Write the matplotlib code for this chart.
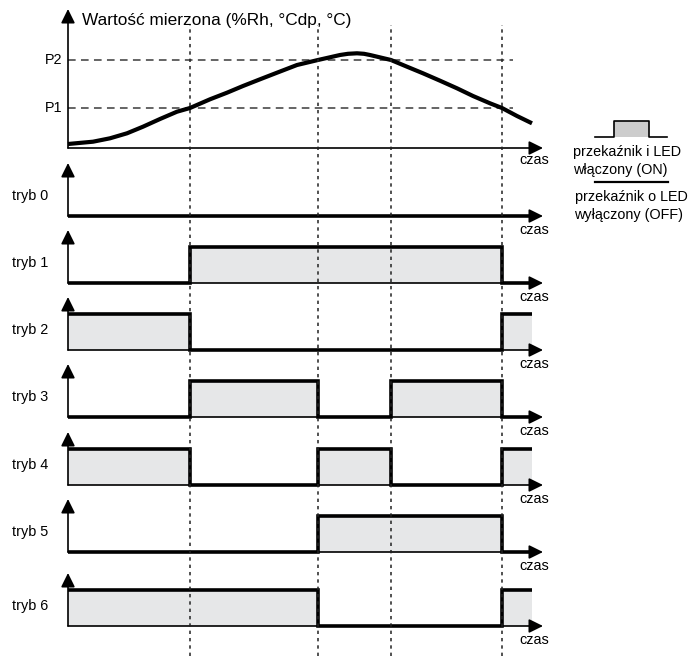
import numpy as np
import matplotlib.pyplot as plt
from matplotlib.lines import Line2D
from matplotlib.patches import Rectangle

plt.rcParams['font.family'] = ['Liberation Sans', 'DejaVu Sans']

# czas w umownych jednostkach, wartosc mierzona w umownych jednostkach
events = [12.2, 25.0, 32.3, 43.4]   # przeciecia z P1 / P2
t_end = 46.4
t_axis = 47.5

P1 = 20
P2 = 44

curve_t = [0, 2.5, 4.2, 5.9, 7.5, 9.2, 10.9, 12.2, 14.2, 15.9, 17.5, 19.2, 20.9,
           22.9, 25.0, 27.2, 28.0, 28.9, 29.6, 30.2, 32.3, 33.9, 35.5, 37.2,
           38.9, 40.5, 42.2, 43.4, 44.9, 46.4]
curve_v = [2, 3.15, 4.85, 7.35, 10.65, 14.5, 18.15, 20, 24.35, 27.65, 31, 34.35, 37.65,
           41.5, 44, 46.5, 47.1, 47.35, 47.1, 46.5, 44, 40.65, 37.35, 33.65,
           29.85, 26, 22.35, 20, 16, 12.35]

modes = ['tryb 0', 'tryb 1', 'tryb 2', 'tryb 3', 'tryb 4', 'tryb 5', 'tryb 6']
states = [
    [0, 0, 0, 0, 0],
    [0, 1, 1, 1, 0],
    [1, 0, 0, 0, 1],
    [0, 1, 0, 1, 0],
    [1, 0, 1, 0, 1],
    [0, 0, 1, 1, 0],
    [1, 1, 0, 0, 1],
]

W, H = 689, 656
FILL = '#e6e7e8'
baselines = [216, 283, 350, 417, 485, 552, 626]


def fx(px):
    return px / W


def fy(py):
    return 1 - py / H


def arrows(ax, ytop):
    kw = dict(arrowstyle='-|>,head_length=0.85,head_width=0.42', mutation_scale=10,
              lw=1.2, color='black', shrinkA=0, shrinkB=0)
    ax.annotate('', xy=(0, ytop), xytext=(0, 0), arrowprops=kw, annotation_clip=False)
    ax.annotate('', xy=(t_axis, 0), xytext=(0, 0), arrowprops=kw, annotation_clip=False)


fig = plt.figure(figsize=(W / 100, H / 100), dpi=100)

# wykres wartosci mierzonej
ax = fig.add_axes([fx(68), fy(148), fx(543) - fx(68), (148 - 9) / H])
ax.set_xlim(0, t_axis)
ax.set_ylim(0, 69.5)
ax.axis('off')
arrows(ax, 69.5)
for p, name in [(P1, 'P1'), (P2, 'P2')]:
    ax.plot([0, 44.5], [p, p], color='#3a3a3a', lw=1.1, ls=(0, (5, 3.5)), clip_on=False)
    ax.text(-0.6, p, name, ha='right', va='center', fontsize=10.4)
ax.plot(curve_t, curve_v, color='black', lw=3.0, solid_capstyle='butt',
        solid_joinstyle='round', clip_on=False)
ax.text(1.4, 63.5, 'Wartość mierzona (%Rh, °Cdp, °C)', fontsize=12.4, va='center')
ax.text(46.6, -6, 'czas', ha='center', va='center', fontsize=10.4)

# tryby pracy
hi_px = 36.5
for name, st, base in zip(modes, states, baselines):
    top = 53 / hi_px
    a = fig.add_axes([fx(68), fy(base), fx(543) - fx(68), 53 / H])
    a.set_xlim(0, t_axis)
    a.set_ylim(0, top)
    a.axis('off')
    x = [0] + events + [t_end]
    y = st + [st[-1]]
    a.fill_between(x, 0, y, step='post', color=FILL, lw=0, zorder=1)
    arrows(a, top)
    a.step(x, y, where='post', color='black', lw=2.6, clip_on=False,
           solid_joinstyle='miter', solid_capstyle='butt', zorder=4)
    a.text(-5.6, 0.55, name, ha='left', va='center', fontsize=10.4)
    a.text(46.6, -0.38, 'czas', ha='center', va='center', fontsize=10.4)

# linie kropkowane w chwilach przelaczen
bg = fig.add_axes([0, 0, 1, 1], zorder=5)
bg.set_xlim(-6.8, 62.1)
bg.set_ylim(0, 1)
bg.axis('off')
for t in events:
    bg.axvline(t, ymin=0, ymax=fy(25), color='#222222', lw=1.1, ls=(0, (2.2, 2.6)))

# legenda
fig.add_artist(Rectangle((fx(614), fy(137)), fx(649) - fx(614), (137 - 121) / H,
                         transform=fig.transFigure, facecolor='#cccccc', edgecolor='none'))
fig.add_artist(Line2D([fx(595), fx(614), fx(614), fx(649), fx(649), fx(667)],
                      [fy(137), fy(137), fy(121), fy(121), fy(137), fy(137)],
                      transform=fig.transFigure, color='black', lw=1.2))
fig.add_artist(Line2D([fx(595), fx(668)], [fy(182), fy(182)],
                      transform=fig.transFigure, color='black', lw=1.6))
fig.text(fx(573), fy(152), 'przekaźnik i LED', va='center', fontsize=10.4)
fig.text(fx(573), fy(170), 'włączony (ON)', va='center', fontsize=10.4)
fig.text(fx(575), fy(197), 'przekaźnik o LED', va='center', fontsize=10.4)
fig.text(fx(574), fy(215), 'wyłączony (OFF)', va='center', fontsize=10.4)

fig.savefig('out.png', dpi=100)
